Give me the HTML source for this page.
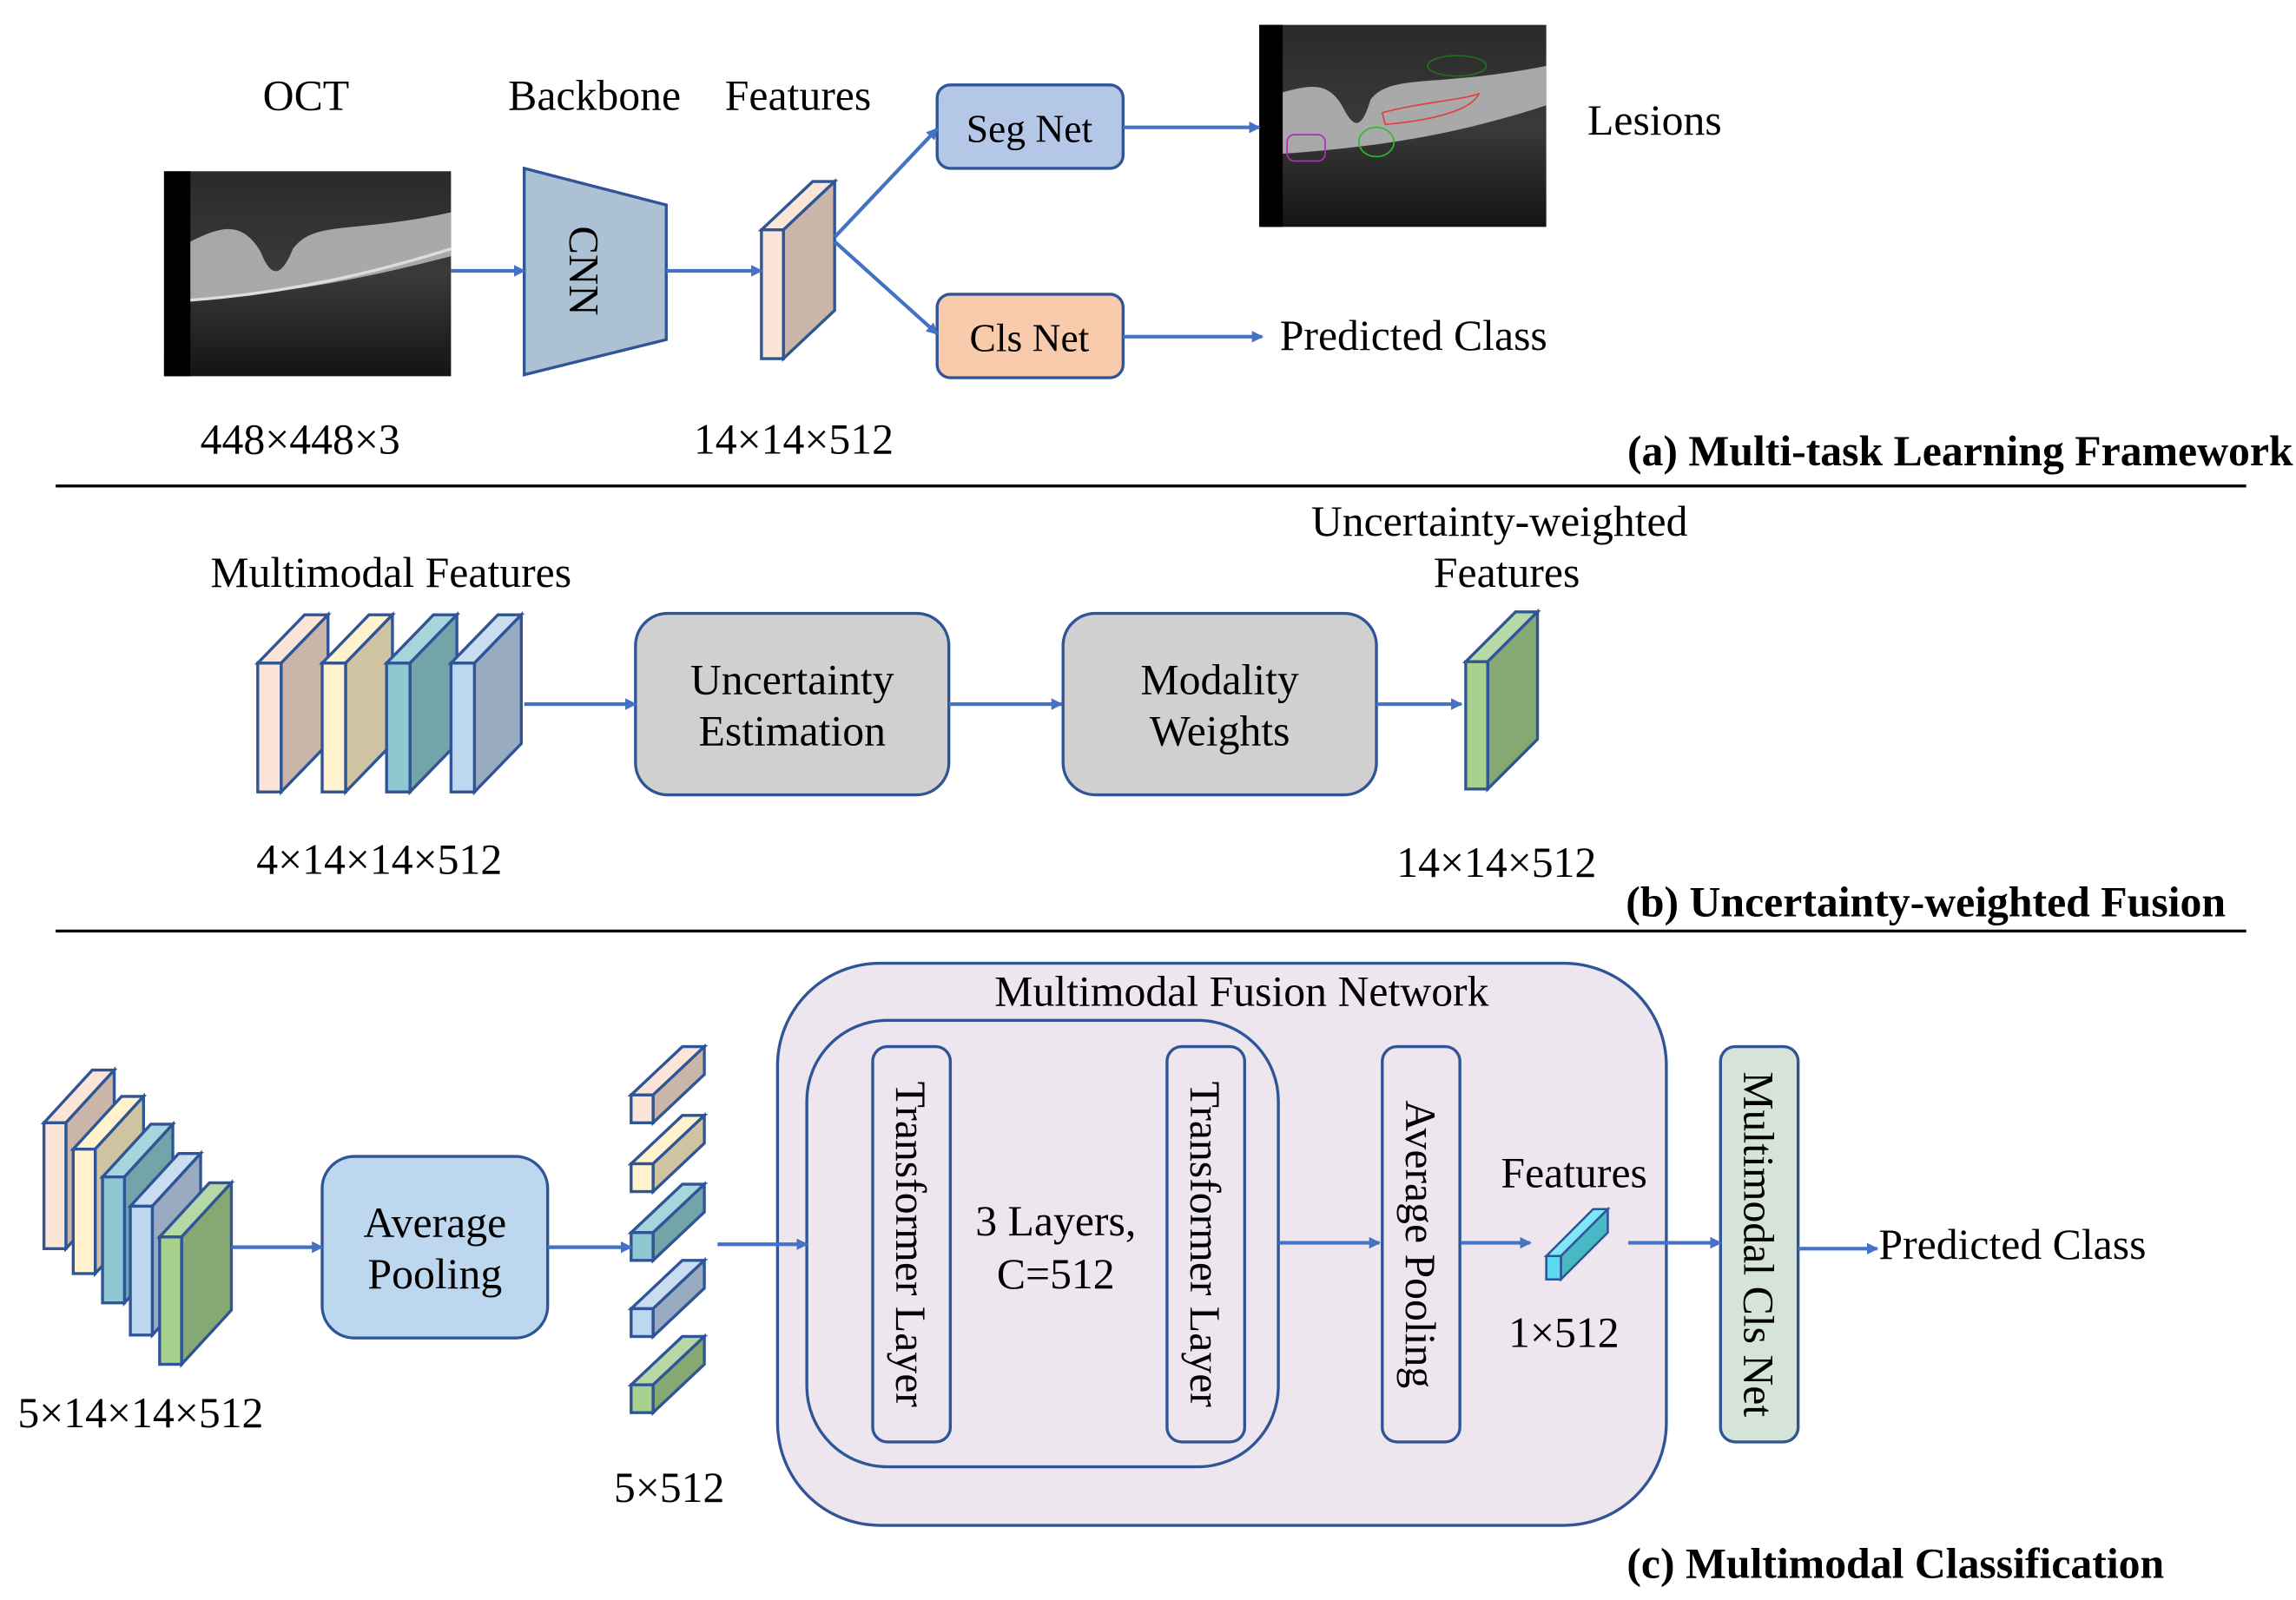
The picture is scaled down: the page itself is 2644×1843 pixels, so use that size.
<!DOCTYPE html>
<html><head><meta charset="utf-8"><style>
html,body{margin:0;padding:0;background:#fff}
svg{display:block}
text{font-family:"Liberation Serif",serif;fill:#000}
</style></head><body>
<svg width="2644" height="1843" viewBox="0 0 1568 1093" xmlns="http://www.w3.org/2000/svg">
<defs>
<marker id="ah" markerWidth="8" markerHeight="8" refX="7" refY="4" orient="auto" markerUnits="userSpaceOnUse">
<path d="M0,0 L8,4 L0,8 Z" fill="#4472C4"/></marker>
<linearGradient id="oct" x1="0" y1="0" x2="0" y2="1">
<stop offset="0" stop-color="#2a2a2a"/><stop offset="0.5" stop-color="#3a3a3a"/><stop offset="1" stop-color="#141414"/></linearGradient>
</defs>
<!-- OCT images -->
<g>
<rect x="112" y="117" width="196" height="140" fill="url(#oct)"/>
<rect x="112" y="117" width="18" height="140" fill="#000"/>
<path d="M130,165 C150,155 165,150 178,172 C185,190 192,190 200,170 C215,150 240,160 308,145 L308,175 C250,190 200,200 130,205 Z" fill="#bdbdbd" opacity="0.85"/>
<path d="M130,205 C200,200 260,185 308,170" stroke="#ddd" stroke-width="2" fill="none"/>
</g>
<g>
<rect x="860" y="17" width="196" height="138" fill="url(#oct)"/>
<rect x="860" y="17" width="16" height="138" fill="#000"/>
<path d="M876,63 C895,58 908,55 918,75 C925,88 930,88 936,68 C950,50 980,60 1056,45 L1056,72 C1000,90 950,100 876,105 Z" fill="#bdbdbd" opacity="0.85"/>
<path d="M944,77 C970,70 1000,68 1010,64 C1005,75 980,82 946,85 Z" fill="none" stroke="#e04040" stroke-width="1"/>
<ellipse cx="940" cy="97" rx="12" ry="10" fill="none" stroke="#2cbb2c" stroke-width="1"/>
<rect x="879" y="92" width="26" height="18" rx="5" fill="none" stroke="#b030b0" stroke-width="1"/>
<ellipse cx="995" cy="45" rx="20" ry="7" fill="none" stroke="#207020" stroke-width="1"/>
</g>
<!-- CNN trapezoid -->
<polygon points="358,115 455,140 455,232 358,256" fill="#ACC1D4" stroke="#2F5597" stroke-width="2"/>
<text transform="translate(389,185) rotate(90)" font-size="29" text-anchor="middle">CNN</text>
<g stroke="#2F5597" stroke-width="2" stroke-linejoin="miter">
<polygon points="520,157 555,124 570,124 535,157" fill="#FBE5D6"/><polygon points="535,157 570,124 570,212 535,245" fill="#C9B6A9"/><rect x="520" y="157" width="15" height="88" fill="#FBE5D6"/>
<polygon points="176,453 208,420 224,420 192,453" fill="#FBE5D6"/><polygon points="192,453 224,420 224,508 192,541" fill="#C9B6A9"/><rect x="176" y="453" width="16" height="88" fill="#FBE5D6"/>
<polygon points="220,453 252,420 268,420 236,453" fill="#FFF2CC"/><polygon points="236,453 268,420 268,508 236,541" fill="#CFC4A2"/><rect x="220" y="453" width="16" height="88" fill="#FFF2CC"/>
<polygon points="264,453 296,420 312,420 280,453" fill="#A6D5DC"/><polygon points="280,453 312,420 312,508 280,541" fill="#72A4AA"/><rect x="264" y="453" width="16" height="88" fill="#8FC8D1"/>
<polygon points="308,453 340,420 356,420 324,453" fill="#C9DCF0"/><polygon points="324,453 356,420 356,508 324,541" fill="#98ABC1"/><rect x="308" y="453" width="16" height="88" fill="#BDD7EE"/>
<polygon points="1001,452 1035,418 1050,418 1016,452" fill="#B5D8A6"/><polygon points="1016,452 1050,418 1050,505 1016,539" fill="#86A872"/><rect x="1001" y="452" width="15" height="87" fill="#A9D18E"/>
<polygon points="30,767 63,731 78,731 45,767" fill="#FBE5D6"/><polygon points="45,767 78,731 78,817 45,853" fill="#C9B6A9"/><rect x="30" y="767" width="15" height="86" fill="#FBE5D6"/>
<polygon points="50,785 83,749 98,749 65,785" fill="#FFF2CC"/><polygon points="65,785 98,749 98,834 65,870" fill="#CFC4A2"/><rect x="50" y="785" width="15" height="85" fill="#FFF2CC"/>
<polygon points="70,804 103,768 118,768 85,804" fill="#A6D5DC"/><polygon points="85,804 118,768 118,854 85,890" fill="#72A4AA"/><rect x="70" y="804" width="15" height="86" fill="#8FC8D1"/>
<polygon points="89,824 122,788 137,788 104,824" fill="#C9DCF0"/><polygon points="104,824 137,788 137,876 104,912" fill="#98ABC1"/><rect x="89" y="824" width="15" height="88" fill="#BDD7EE"/>
<polygon points="109,845 143,808 158,808 124,845" fill="#B5D8A6"/><polygon points="124,845 158,808 158,895 124,932" fill="#86A872"/><rect x="109" y="845" width="15" height="87" fill="#A9D18E"/>
<polygon points="431,748 466,715 481,715 446,748" fill="#FBE5D6"/><polygon points="446,748 481,715 481,734 446,767" fill="#C9B6A9"/><rect x="431" y="748" width="15" height="19" fill="#FBE5D6"/>
<polygon points="431,795 466,762 481,762 446,795" fill="#FFF2CC"/><polygon points="446,795 481,762 481,781 446,814" fill="#CFC4A2"/><rect x="431" y="795" width="15" height="19" fill="#FFF2CC"/>
<polygon points="431,842 466,809 481,809 446,842" fill="#A6D5DC"/><polygon points="446,842 481,809 481,828 446,861" fill="#72A4AA"/><rect x="431" y="842" width="15" height="19" fill="#8FC8D1"/>
<polygon points="431,894 466,861 481,861 446,894" fill="#C9DCF0"/><polygon points="446,894 481,861 481,880 446,913" fill="#98ABC1"/><rect x="431" y="894" width="15" height="19" fill="#BDD7EE"/>
<polygon points="431,946 466,913 481,913 446,946" fill="#B5D8A6"/><polygon points="446,946 481,913 481,932 446,965" fill="#86A872"/><rect x="431" y="946" width="15" height="19" fill="#A9D18E"/>
</g>
<rect x="640" y="58" width="127" height="57" rx="9" fill="#B4C7E7" stroke="#2F5597" stroke-width="2"/>
<text x="703" y="97" font-size="27" text-anchor="middle">Seg Net</text>
<rect x="640" y="201" width="127" height="57" rx="9" fill="#F8CBAD" stroke="#2F5597" stroke-width="2"/>
<text x="703" y="240" font-size="27" text-anchor="middle">Cls Net</text>
<g font-size="29.5">
<text x="209" y="75" text-anchor="middle">OCT</text>
<text x="406" y="75" text-anchor="middle">Backbone</text>
<text x="545" y="75" text-anchor="middle">Features</text>
<text x="1130" y="92" text-anchor="middle">Lesions</text>
<text x="874" y="239">Predicted Class</text>
<text x="205" y="310" text-anchor="middle">448×448×3</text>
<text x="542" y="310" text-anchor="middle">14×14×512</text>
<text x="1566" y="318" font-weight="bold" text-anchor="end">(a) Multi-task Learning Framework</text>
<text x="267" y="401" text-anchor="middle">Multimodal Features</text>
<text x="1024" y="366" text-anchor="middle">Uncertainty-weighted</text>
<text x="1029" y="401" text-anchor="middle">Features</text>
</g>
<line x1="38" y1="332" x2="1534" y2="332" stroke="#000" stroke-width="2"/>
<rect x="434" y="419" width="214" height="124" rx="22" fill="#D0D0D0" stroke="#2F5597" stroke-width="2"/>
<rect x="726" y="419" width="214" height="124" rx="22" fill="#D0D0D0" stroke="#2F5597" stroke-width="2"/>
<g font-size="29.5">
<text x="541" y="474" text-anchor="middle">Uncertainty</text>
<text x="541" y="509" text-anchor="middle">Estimation</text>
<text x="833" y="474" text-anchor="middle">Modality</text>
<text x="833" y="509" text-anchor="middle">Weights</text>
<text x="259" y="597" text-anchor="middle">4×14×14×512</text>
<text x="1022" y="599" text-anchor="middle">14×14×512</text>
<text x="1520" y="626" font-weight="bold" text-anchor="end">(b) Uncertainty-weighted Fusion</text>
</g>
<line x1="38" y1="636" x2="1534" y2="636" stroke="#000" stroke-width="2"/>
<rect x="220" y="790" width="154" height="124" rx="22" fill="#BDD7EE" stroke="#2F5597" stroke-width="2"/>
<rect x="531" y="658" width="607" height="384" rx="70" fill="#EDE6EF" stroke="#2F5597" stroke-width="2"/>
<rect x="551" y="697" width="322" height="305" rx="55" fill="#EDE6EF" stroke="#2F5597" stroke-width="2"/>
<rect x="596" y="715" width="53" height="270" rx="10" fill="#EDE6EF" stroke="#2F5597" stroke-width="2"/>
<rect x="797" y="715" width="53" height="270" rx="10" fill="#EDE6EF" stroke="#2F5597" stroke-width="2"/>
<rect x="944" y="715" width="53" height="270" rx="10" fill="#EDE6EF" stroke="#2F5597" stroke-width="2"/>
<rect x="1175" y="715" width="53" height="270" rx="10" fill="#D5E3D9" stroke="#2F5597" stroke-width="2"/>
<g font-size="29.5">
<text x="297" y="845" text-anchor="middle">Average</text>
<text x="297" y="880" text-anchor="middle">Pooling</text>
<text x="96" y="975" text-anchor="middle">5×14×14×512</text>
<text x="457" y="1026" text-anchor="middle">5×512</text>
<text x="848" y="687" text-anchor="middle">Multimodal Fusion Network</text>
<text transform="translate(612,850) rotate(90)" text-anchor="middle">Transformer Layer</text>
<text transform="translate(813,850) rotate(90)" text-anchor="middle">Transformer Layer</text>
<text x="721" y="844" text-anchor="middle">3 Layers,</text>
<text x="721" y="880" text-anchor="middle">C=512</text>
<text transform="translate(960,850) rotate(90)" text-anchor="middle">Average Pooling</text>
<text x="1075" y="811" text-anchor="middle">Features</text>
<text x="1068" y="920" text-anchor="middle">1×512</text>
<text transform="translate(1191,850) rotate(90)" text-anchor="middle">Multimodal Cls Net</text>
<text x="1283" y="860">Predicted Class</text>
<text x="1478" y="1078" font-weight="bold" text-anchor="end">(c) Multimodal Classification</text>
</g>
<g stroke="#2F5597" stroke-width="1.5">
<polygon points="1056,858 1088,826 1098,826 1066,858" fill="#7FE8F8"/>
<polygon points="1066,858 1098,826 1098,842 1066,874" fill="#4AB8C4"/>
<rect x="1056" y="858" width="10" height="16" fill="#5ED8F0"/>
</g>
<g stroke="#4472C4" stroke-width="2.5" fill="none" marker-end="url(#ah)">
<line x1="308" y1="185" x2="358" y2="185"/>
<line x1="455" y1="185" x2="520" y2="185"/>
<line x1="570" y1="162" x2="640" y2="88"/>
<line x1="570" y1="165" x2="640" y2="228"/>
<line x1="767" y1="87" x2="860" y2="87"/>
<line x1="767" y1="230" x2="862" y2="230"/>
<line x1="358" y1="481" x2="434" y2="481"/>
<line x1="648" y1="481" x2="725" y2="481"/>
<line x1="940" y1="481" x2="998" y2="481"/>
<line x1="158" y1="852" x2="220" y2="852"/>
<line x1="374" y1="852" x2="431" y2="852"/>
<line x1="490" y1="850" x2="551" y2="850"/>
<line x1="873" y1="849" x2="942" y2="849"/>
<line x1="998" y1="849" x2="1045" y2="849"/>
<line x1="1112" y1="849" x2="1175" y2="849"/>
<line x1="1228" y1="853" x2="1282" y2="853"/>
</g>
</svg>
</body></html>
